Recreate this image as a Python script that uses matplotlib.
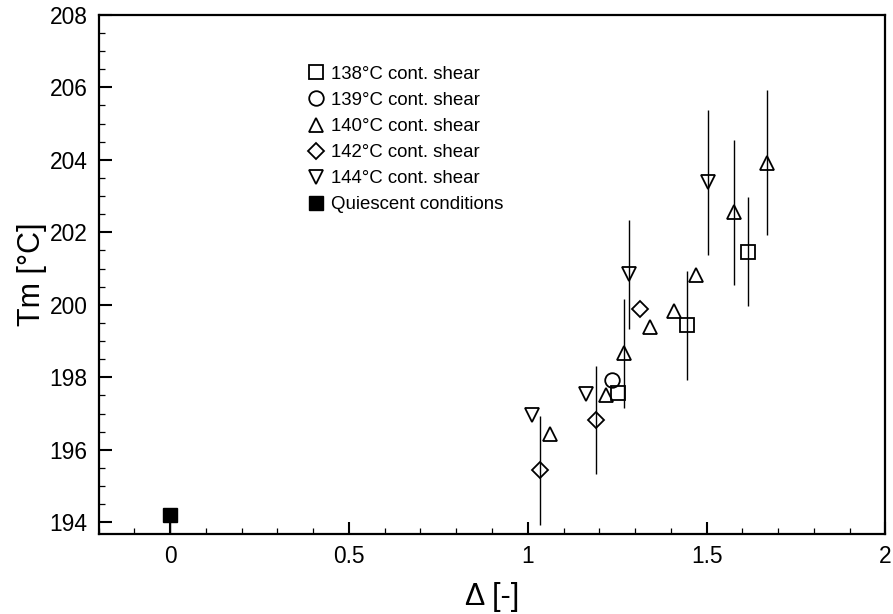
import numpy as np
import matplotlib
matplotlib.use("Agg")
import matplotlib.pyplot as plt
from matplotlib.ticker import MultipleLocator, FuncFormatter

plt.rcParams['font.family'] = ['Liberation Sans', 'DejaVu Sans']

# 138 C continuous shear (squares)
x138 = [1.251, 1.445, 1.617]
y138 = [197.57, 199.43, 201.46]
e138 = [0.0, 1.5, 1.5]
# 139 C (circle)
x139 = [1.236]
y139 = [197.93]
e139 = [0.0]
# 140 C (up triangles)
x140 = [1.061, 1.220, 1.270, 1.343, 1.409, 1.470, 1.577, 1.670]
y140 = [196.45, 197.52, 198.66, 199.39, 199.83, 200.82, 202.55, 203.92]
e140 = [0.0, 0.0, 1.5, 0.0, 0.0, 0.0, 2.0, 2.0]
# 142 C (diamonds)
x142 = [1.035, 1.192, 1.313]
y142 = [195.44, 196.82, 199.88]
e142 = [1.5, 1.5, 0.0]
# 144 C (down triangles)
x144 = [1.012, 1.164, 1.282, 1.504]
y144 = [196.96, 197.54, 200.84, 203.38]
e144 = [0.0, 0.0, 1.5, 2.0]
# quiescent
xq = [0.0]
yq = [194.2]
eq_low = [0.6]

fig = plt.figure(figsize=(8.93, 6.14), dpi=100)
ax = fig.add_axes([0.1105, 0.1298, 0.9914 - 0.1105, 0.976 - 0.1298])

series = [
    (x138, y138, e138, 's', 9.6, u'138\u00b0C cont. shear'),
    (x139, y139, e139, 'o', 10.5, u'139\u00b0C cont. shear'),
    (x140, y140, e140, '^', 10.5, u'140\u00b0C cont. shear'),
    (x142, y142, e142, 'D', 8.0, u'142\u00b0C cont. shear'),
    (x144, y144, e144, 'v', 10.5, u'144\u00b0C cont. shear'),
]

for xs, ys, es, mk, ms, lab in series:
    xs = np.array(xs); ys = np.array(ys); es = np.array(es)
    m = es > 0
    if m.any():
        ax.errorbar(xs[m], ys[m], yerr=es[m], fmt='none', ecolor='black',
                    elinewidth=1.0, capsize=0, zorder=2)
    ax.plot(xs, ys, linestyle='none', marker=mk, markersize=ms,
            markerfacecolor='none', markeredgecolor='black',
            markeredgewidth=1.3, label=lab, zorder=3)

ax.errorbar(xq, yq, yerr=[eq_low, [0.0]], fmt='none', ecolor='black',
            elinewidth=1.0, capsize=0, zorder=2)
ax.plot(xq, yq, linestyle='none', marker='s', markersize=9.6,
        markerfacecolor='black', markeredgecolor='black',
        label='Quiescent conditions', zorder=3)

ax.set_xlim(-0.2, 2.0)
ax.set_ylim(193.67, 208)
ax.xaxis.set_major_locator(MultipleLocator(0.5))
ax.xaxis.set_minor_locator(MultipleLocator(0.1))
ax.yaxis.set_major_locator(MultipleLocator(2))
ax.yaxis.set_minor_locator(MultipleLocator(0.5))
ax.xaxis.set_major_formatter(FuncFormatter(lambda v, p: '%g' % v))

ax.tick_params(which='both', direction='in', top=False, right=False)
ax.tick_params(which='major', length=9, width=1.5, labelsize=16.4, pad=8)
ax.tick_params(which='minor', length=4.5, width=0.9)
for s in ax.spines.values():
    s.set_linewidth(1.6)

ax.set_xlabel(u'\u0394 [-]', fontsize=22, labelpad=10)
ax.set_ylabel(u'Tm [\u00b0C]', fontsize=22, labelpad=2)

ax.legend(loc='upper left', bbox_to_anchor=(308.6 / 893, 1 - 65.7 / 614),
          bbox_transform=fig.transFigure, frameon=False, fontsize=13.4,
          borderpad=0, borderaxespad=0, handlelength=0.8, handletextpad=0.38,
          labelspacing=0.49, numpoints=1)

fig.savefig('out.png', dpi=100)
